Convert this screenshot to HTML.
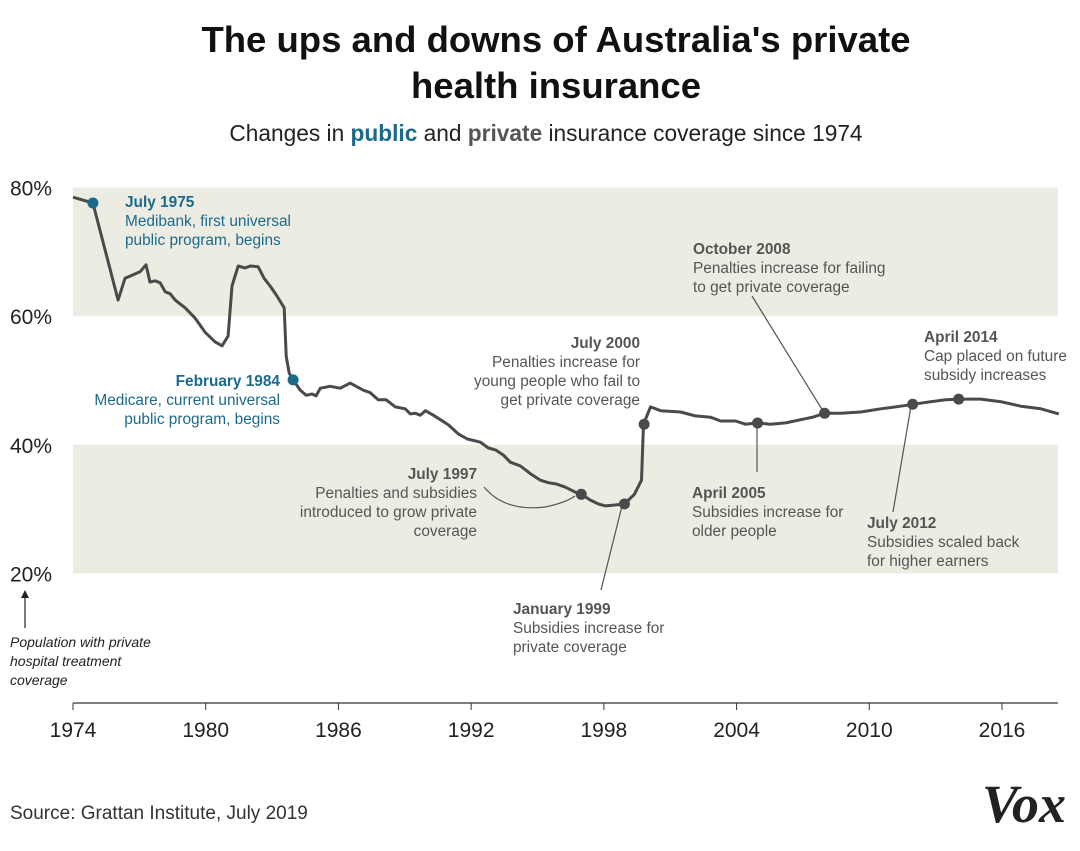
<!DOCTYPE html>
<html><head><meta charset="utf-8">
<style>
body{margin:0;background:#fff;width:1080px;height:846px;overflow:hidden;font-family:"Liberation Sans",sans-serif}
svg text{font-family:"Liberation Sans",sans-serif}
</style></head>
<body>
<svg id="chart" width="1080" height="846" xmlns="http://www.w3.org/2000/svg">
<text x="556" y="52" text-anchor="middle" font-size="36.5" font-weight="bold" fill="#111">The ups and downs of Australia's private</text>
<text x="556" y="98" text-anchor="middle" font-size="36.5" font-weight="bold" fill="#111">health insurance</text>
<text x="546" y="141" text-anchor="middle" font-size="22.7" fill="#222">Changes in <tspan font-weight="bold" fill="#1b6a8c">public</tspan> and <tspan font-weight="bold" fill="#555">private</tspan> insurance coverage since 1974</text>
<g id="bands"></g>
<g id="yticks"></g>
<g id="xticks"></g>
<line x1="73" x2="1058" y1="703" y2="703" stroke="#333" stroke-width="1.2"/>
<path id="line" fill="none" stroke="#4a4a4a" stroke-width="3" stroke-linejoin="round"/>
<g id="leaders" stroke="#555" stroke-width="1.2" fill="none">
<path d="M484 487 Q505 512 545 507 Q565 503 575 496"/>
<line x1="622" y1="506" x2="601" y2="590"/>
<line x1="757" y1="425" x2="757" y2="472"/>
<line x1="752" y1="296" x2="823" y2="411"/>
<line x1="911" y1="406" x2="893" y2="512"/>
</g>
<g id="dots"></g>
<g font-size="15.4" fill="#555">
<g fill="#1b6a8c"><text x="125" y="207" font-weight="bold">July 1975</text><text x="125" y="226">Medibank, first universal</text><text x="125" y="245">public program, begins</text></g>
<g fill="#1b6a8c" text-anchor="end"><text x="280" y="386" font-weight="bold">February 1984</text><text x="280" y="405">Medicare, current universal</text><text x="280" y="424">public program, begins</text></g>
<g text-anchor="end"><text x="640" y="348" font-weight="bold">July 2000</text><text x="640" y="367">Penalties increase for</text><text x="640" y="386">young people who fail to</text><text x="640" y="405">get private coverage</text></g>
<g text-anchor="end"><text x="477" y="479" font-weight="bold">July 1997</text><text x="477" y="498">Penalties and subsidies</text><text x="477" y="517">introduced to grow private</text><text x="477" y="536">coverage</text></g>
<g><text x="513" y="614" font-weight="bold">January 1999</text><text x="513" y="633">Subsidies increase for</text><text x="513" y="652">private coverage</text></g>
<g><text x="692" y="498" font-weight="bold">April 2005</text><text x="692" y="517">Subsidies increase for</text><text x="692" y="536">older people</text></g>
<g><text x="693" y="254" font-weight="bold">October 2008</text><text x="693" y="273">Penalties increase for failing</text><text x="693" y="292">to get private coverage</text></g>
<g><text x="867" y="528" font-weight="bold">July 2012</text><text x="867" y="547">Subsidies scaled back</text><text x="867" y="566">for higher earners</text></g>
<g><text x="924" y="342" font-weight="bold">April 2014</text><text x="924" y="361">Cap placed on future</text><text x="924" y="380">subsidy increases</text></g>
</g>
<g font-size="14" font-style="italic" fill="#222">
<line x1="25" y1="628" x2="25" y2="596" stroke="#222" stroke-width="1.2"/><path d="M21 598 L25 590 L29 598 Z" fill="#222"/>
<text x="10" y="647">Population with private</text><text x="10" y="666">hospital treatment</text><text x="10" y="685">coverage</text></g>
<text x="10" y="819" font-size="19" fill="#333">Source: Grattan Institute, July 2019</text>
<text x="1066" y="822" text-anchor="end" font-size="54" font-weight="bold" font-style="italic" fill="#222" style="font-family:'Liberation Serif',serif">Vox</text>
</svg>
<script>
const years=[1974.0,1974.9,1976.04,1976.35,1977.03,1977.3,1977.48,1977.71,1977.94,1978.17,1978.39,1978.62,1979.07,1979.52,1979.97,1980.43,1980.74,1981.01,1981.19,1981.47,1981.78,1982.01,1982.37,1982.64,1982.91,1983.19,1983.55,1983.64,1983.77,1983.95,1984.27,1984.54,1984.81,1984.99,1985.18,1985.63,1986.08,1986.53,1986.85,1987.12,1987.44,1987.8,1988.16,1988.57,1989.02,1989.25,1989.48,1989.7,1989.93,1990.29,1990.61,1990.97,1991.42,1991.83,1992.42,1992.78,1993.1,1993.46,1993.77,1994.23,1994.68,1995.13,1995.49,1995.86,1996.26,1996.67,1997.03,1997.39,1997.76,1998.07,1998.39,1998.93,1999.38,1999.7,1999.79,2000.11,2000.57,2001.47,2002.14,2002.82,2003.28,2003.95,2004.41,2004.95,2005.54,2006.22,2006.9,2007.44,2007.98,2008.71,2009.61,2010.52,2011.42,2011.96,2012.78,2013.46,2014.09,2015.04,2015.95,2016.85,2017.76,2018.57];
const coverage=[78.5,77.6,62.5,65.9,66.9,68.0,65.3,65.5,65.2,63.8,63.5,62.5,61.3,59.7,57.5,56.0,55.4,56.9,64.7,67.8,67.5,67.8,67.7,65.9,64.7,63.3,61.3,53.8,51.2,50.1,48.5,47.7,47.9,47.6,48.8,49.1,48.8,49.6,49.0,48.5,48.1,47.0,47.0,45.9,45.6,44.8,44.9,44.6,45.3,44.6,43.9,43.1,41.7,40.9,40.4,39.5,39.2,38.4,37.3,36.7,35.5,34.5,34.1,33.9,33.4,32.7,32.2,31.4,30.8,30.5,30.6,30.8,32.3,34.5,43.2,45.9,45.3,45.1,44.5,44.3,43.7,43.7,43.2,43.4,43.2,43.4,43.9,44.3,44.9,44.9,45.1,45.6,46.0,46.3,46.7,47.0,47.1,47.1,46.7,46.0,45.6,44.8];
const eventYears=[1974.9,1983.95,1996.98,1998.93,1999.82,2004.95,2007.98,2011.96,2014.04];
const eventValues=[77.6,50.1,32.3,30.8,43.2,43.4,44.9,46.3,47.1];
const eventTypes=["public","public","private","private","private","private","private","private","private"];
const xTicks=[1974,1980,1986,1992,1998,2004,2010,2016];
const yTicks=[20,40,60,80];
const bandRanges=[[20,40],[60,80]];
const NS="http://www.w3.org/2000/svg";
const xS=y=>73+(y-1974)*(1002-73)/42;
const yS=v=>702-v*6.43;
function mk(t,a){const e=document.createElementNS(NS,t);for(const k in a)e.setAttribute(k,a[k]);return e;}
const bands=document.getElementById('bands');
bandRanges.forEach(r=>{const e=mk('rect',{x:73,width:985,y:yS(r[1]),height:yS(r[0])-yS(r[1]),fill:'#edece3'});


bands.appendChild(e);});
const yt=document.getElementById('yticks');
yTicks.forEach(v=>{const t=mk('text',{x:10,y:yS(v)+8,'font-size':21,fill:'#222'});t.textContent=v+'%';


yt.appendChild(t);});
const xt=document.getElementById('xticks');
xTicks.forEach(v=>{const l=mk('line',{x1:xS(v),x2:xS(v),y1:703,y2:710,stroke:'#333'});


xt.appendChild(l);
const t=mk('text',{x:xS(v),y:737,'font-size':21,fill:'#222','text-anchor':'middle'});t.textContent=v;


xt.appendChild(t);});
document.getElementById('line').setAttribute('d',years.map((y,i)=>(i?'L':'M')+xS(y).toFixed(1)+' '+yS(coverage[i]).toFixed(1)).join(' '));
const dots=document.getElementById('dots');
eventYears.forEach((y,i)=>{const c=mk('circle',{cx:xS(y),cy:yS(eventValues[i]),r:5.5,fill:eventTypes[i]==='public'?'#1b6a8c':'#4a4a4a'});


dots.appendChild(c);});
</script>
</body></html>
